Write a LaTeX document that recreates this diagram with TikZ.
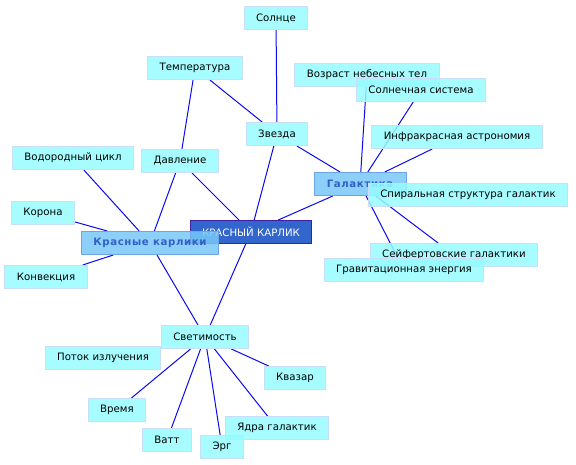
\documentclass[tikz,border=0pt]{standalone}
\usepackage{fontspec}
\setmainfont{DejaVu Sans}
\newfontfamily\spacedfont[LetterSpace=6.0]{DejaVu Sans}
\usetikzlibrary{backgrounds}
\definecolor{leaffill}{RGB}{150,252,255}
\definecolor{leafline}{RGB}{200,222,250}
\definecolor{hubfill}{RGB}{120,200,248}
\definecolor{hubline}{RGB}{110,165,230}
\definecolor{hubtext}{RGB}{50,95,200}
\definecolor{corefill}{RGB}{51,102,204}
\definecolor{coreline}{RGB}{64,32,160}
\definecolor{linkblue}{RGB}{10,10,240}

\begin{document}
\begin{tikzpicture}[x=1pt, y=-1pt,
leaf/.style={draw=leafline, line width=1pt, fill=leaffill, fill opacity=0.85, text opacity=1,
font=\fontsize{10.2}{12}\selectfont, minimum height=23pt, inner xsep=12pt, inner ysep=2pt},
hub/.style={leaf, draw=hubline, fill=hubfill, text=hubtext, font=\fontsize{10.2}{12}\selectfont\spacedfont\bfseries},
core/.style={leaf, draw=coreline, fill=corefill, fill opacity=1, text=white},
link/.style={draw=linkblue, line width=1pt}
]
\useasboundingbox (0,0) rectangle (576,465);
% upper part
\node[leaf] (sun) at (276,18) {Солнце};
\node[leaf] (temp) at (195,68) {Температура};
\node[leaf] (age) at (367,75) {Возраст небесных тел};
\node[leaf] (solar) at (421,90) {Солнечная система};
\node[leaf] (star) at (277,134) {Звезда};
\node[leaf] (infra) at (457,137) {Инфракрасная астрономия};
\node[leaf] (hydro) at (73,158) {Водородный цикл};
\node[leaf] (press) at (180,161) {Давление};
\node[hub, minimum width=92pt] (galaxy) at (360,184) {Галактика};
\node[leaf] (spiral) at (468,195) {Спиральная структура галактик};
% middle part
\node[leaf] (corona) at (43,213) {Корона};
\node[core] (dwarf) at (251,232) {КРАСНЫЙ КАРЛИК};
\node[hub, minimum width=137pt] (dwarfs) at (150,243) {Красные карлики};
\node[leaf] (seyfert) at (454,255) {Сейфертовские галактики};
\node[leaf] (grav) at (404,270) {Гравитационная энергия};
\node[leaf] (convect) at (46,277) {Конвекция};
% lower part
\node[leaf] (lum) at (205,337) {Светимость};
\node[leaf] (flux) at (103,358) {Поток излучения};
\node[leaf] (quasar) at (295,378) {Квазар};
\node[leaf] (time) at (117,410) {Время};
\node[leaf] (nuclei) at (277,428) {Ядра галактик};
\node[leaf] (watt) at (167,440) {Ватт};
\node[leaf] (erg) at (222,447) {Эрг};

\begin{scope}[on background layer]
\draw[link] (sun) -- (star);
\draw[link] (temp) -- (star);
\draw[link] (temp) -- (press);
\draw[link] (star) -- (galaxy);
\draw[link] (star) -- (dwarf);
\draw[link] (press) -- (dwarf);
\draw[link] (press) -- (dwarfs);
\draw[link] (hydro) -- (dwarfs);
\draw[link] (corona) -- (dwarfs);
\draw[link] (convect) -- (dwarfs);
\draw[link] (dwarfs) -- (lum);
\draw[link] (dwarf) -- (lum);
\draw[link] (dwarf) -- (galaxy);
\draw[link] (galaxy) -- (age);
\draw[link] (galaxy) -- (solar);
\draw[link] (galaxy) -- (infra);
\draw[link] (galaxy) -- (seyfert);
\draw[link] (galaxy) -- (grav);
\draw[link] (lum) -- (quasar);
\draw[link] (lum) -- (time);
\draw[link] (lum) -- (watt);
\draw[link] (lum) -- (erg);
\draw[link] (lum) -- (nuclei);
\end{scope}
\end{tikzpicture}
\end{document}
